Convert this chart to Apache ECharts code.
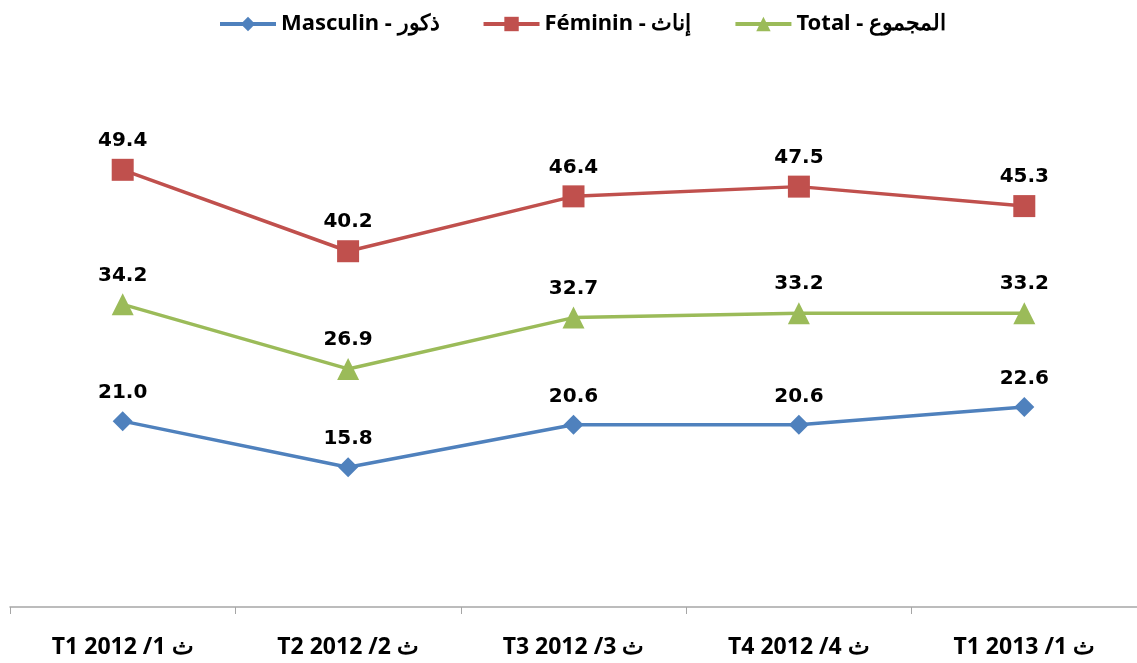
<!DOCTYPE html>
<html>
<head>
<meta charset="utf-8">
<script src="https://cdn.jsdelivr.net/npm/echarts@6/dist/echarts.min.js"></script>
<style>
  html, body { margin: 0; padding: 0; background: #fff; }
  #main { width: 1137px; height: 663px; }
</style>
</head>
<body>
<div id="main"></div>
<script>
// categories (T = trimestre / ث = ثلاثي)
const quarters = ['T1 2012 /1 ث', 'T2 2012 /2 ث', 'T3 2012 /3 ث', 'T4 2012 /4 ث', 'T1 2013 /1 ث']
const masculin = [21.0, 15.8, 20.6, 20.6, 22.6]
const feminin = [49.4, 40.2, 46.4, 47.5, 45.3]
const total = [34.2, 26.9, 32.7, 33.2, 33.2]
const seriesNames = ['Masculin - ذكور', 'Féminin - إناث', 'Total - المجموع']

// Noto Sans for anything with arabic (shapes fine through fallback), DejaVu for the numbers
const textFont = 'Noto Sans, sans-serif'
const numFont = 'DejaVu Sans, sans-serif'

function lineSeries (name, data, color, symbol, size) {
  return {
    name: name,
    type: 'line',
    data: data,
    symbol: symbol,
    symbolSize: size,
    lineStyle: { color: color, width: 3.5 },
    itemStyle: { color: color },
    label: {
      show: true,
      position: 'top',
      distance: 8,
      color: '#000',
      fontFamily: numFont,
      fontWeight: 'bold',
      fontSize: 20,
      formatter: function (p) { return p.value.toFixed(1) }
    },
    animation: false
  }
}

let myChart = echarts.init(document.getElementById('main'))
myChart.setOption({
  backgroundColor: '#fff',
  legend: {
    top: 8,
    left: 213,
    itemWidth: 56,
    itemHeight: 18,
    itemGap: 42,
    lineStyle: { width: 4 },
    textStyle: { color: '#000', fontFamily: textFont, fontWeight: 'bold', fontSize: 22 },
    data: seriesNames
  },
  grid: { left: 10, right: 0, top: 76, bottom: 56, containLabel: false },
  xAxis: {
    type: 'category',
    data: quarters,
    boundaryGap: true,
    axisLine: { lineStyle: { color: '#a6a6a6', width: 1.5 } },
    axisTick: { show: true, length: 7, lineStyle: { color: '#a6a6a6' } },
    axisLabel: {
      margin: 29,
      color: '#000',
      fontFamily: textFont,
      fontWeight: 'bold',
      fontSize: 23
    }
  },
  yAxis: {
    type: 'value',
    min: 0,
    max: 60,
    show: false,
    splitLine: { show: false }
  },
  series: [
    lineSeries(seriesNames[0], masculin, '#4F81BD', 'diamond', 20),
    lineSeries(seriesNames[1], feminin, '#C0504D', 'rect', 22),
    lineSeries(seriesNames[2], total, '#9BBB59', 'triangle', 22)
  ]
})
</script>
</body>
</html>
